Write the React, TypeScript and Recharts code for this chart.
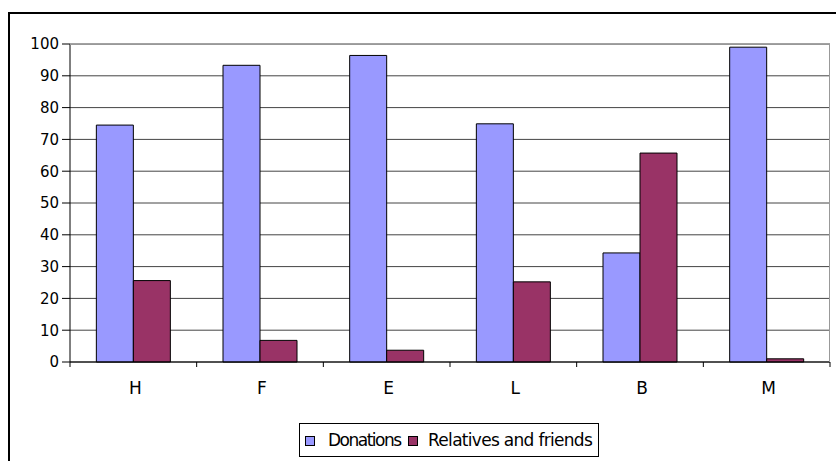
import React from "react";
import { BarChart, Bar, XAxis, YAxis, CartesianGrid } from "recharts";

const categories = ["H", "F", "E", "L", "B", "M"];
const donations = [74.5, 93.3, 96.4, 74.9, 34.3, 99.0];
const relatives = [25.6, 6.8, 3.7, 25.2, 65.7, 1.0];
const yTicks = [0, 10, 20, 30, 40, 50, 60, 70, 80, 90, 100];
const seriesNames = ["Donations", "Relatives and friends"];

const data = categories.map((c, i) => ({ name: c, donations: donations[i], relatives: relatives[i] }));

const FONT = "'DejaVu Sans', Verdana, sans-serif";
const BLUE = "#9999FF";
const PLUM = "#993366";

const XTick = (props: any) => {
  const { x, y, payload, index, visibleTicksCount } = props;
  const half = payload && payload.offset ? payload.offset : 63.3;
  const axisY = y - 8;
  return (
    <g>
      <line x1={x - half} x2={x - half} y1={axisY} y2={axisY + 5} stroke="#000" strokeWidth={1} />
      {index === (visibleTicksCount ?? categories.length) - 1 && (
        <line x1={x + half} x2={x + half} y1={axisY} y2={axisY + 5} stroke="#000" strokeWidth={1} />
      )}
      <text x={x + 2} y={axisY + 32} textAnchor="middle" fontFamily={FONT} fontSize={17} fill="#000">
        {payload.value}
      </text>
    </g>
  );
};

export default function App() {
  const sq = (left: number, color: string) => (
    <span
      style={{
        position: "absolute",
        left,
        top: 12,
        width: 10,
        height: 10,
        background: color,
        border: "1px solid #000",
        boxSizing: "border-box",
      }}
    />
  );
  const txt = (left: number, s: string, spacing: number) => (
    <span
      style={{
        position: "absolute",
        left,
        top: 6,
        fontFamily: FONT,
        fontSize: 17,
        lineHeight: "20px",
        letterSpacing: spacing,
        color: "#000",
        whiteSpace: "nowrap",
      }}
    >
      {s}
    </span>
  );
  return (
    <div style={{ position: "absolute", left: 0, top: 0, width: 836, height: 461, background: "#fff", overflow: "hidden" }}>
      <div
        style={{
          position: "absolute",
          left: 8,
          top: 12,
          width: 900,
          height: 500,
          borderLeft: "2px solid #000",
          borderTop: "2px solid #000",
          boxSizing: "border-box",
        }}
      />
      <div style={{ position: "absolute", left: 0, top: 0 }}>
        <BarChart
          width={836}
          height={461}
          data={data}
          margin={{ top: 44, right: 6, left: 10, bottom: 69 }}
          barGap={0}
          barCategoryGap="20.8%"
        >
          <CartesianGrid vertical={false} stroke="#444" strokeWidth={1} />
          <XAxis
            dataKey="name"
            height={30}
            axisLine={{ stroke: "#000" }}
            tickLine={false}
            interval={0}
            tick={<XTick />}
          />
          <YAxis
            domain={[0, 100]}
            ticks={yTicks}
            interval={0}
            width={60}
            axisLine={{ stroke: "#000" }}
            tickLine={{ stroke: "#000" }}
            tickSize={8}
            tickMargin={3}
            tick={{ fontFamily: FONT, fontSize: 15, fill: "#000" }}
          />
          <Bar dataKey="donations" name={seriesNames[0]} fill={BLUE} stroke="#000" strokeWidth={1} isAnimationActive={false} />
          <Bar dataKey="relatives" name={seriesNames[1]} fill={PLUM} stroke="#000" strokeWidth={1} isAnimationActive={false} />
        </BarChart>
      </div>
      <div
        style={{
          position: "absolute",
          left: 70,
          top: 44,
          width: 760,
          height: 318,
          borderTop: "1px solid #999",
          borderRight: "1px solid #999",
          boxSizing: "border-box",
          pointerEvents: "none",
        }}
      />
      <div
        style={{
          position: "absolute",
          left: 299,
          top: 423,
          width: 300,
          height: 34,
          border: "1px solid #000",
          boxSizing: "border-box",
        }}
      >
        {sq(5, BLUE)}
        {txt(28, seriesNames[0], -1.5)}
        {sq(108, PLUM)}
        {txt(128, seriesNames[1], -0.7)}
      </div>
    </div>
  );
}
